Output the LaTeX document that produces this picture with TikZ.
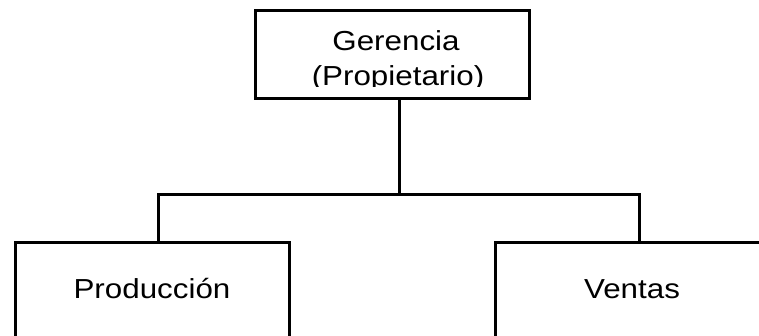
\documentclass[tikz,border=0pt]{standalone}
\usepackage{fontspec}
\setmainfont{Liberation Sans}[FakeStretch=1.14]
\usepackage{tikz}

\begin{document}
\begin{tikzpicture}
  [x=1pt,y=-1pt,line width=3pt,
   every node/.style={font=\fontsize{27.5}{32}\selectfont,inner sep=0pt},
   box/.style={draw,minimum width=274pt,text height=19.3pt,text depth=7.3pt}]
  \useasboundingbox (0,0) rectangle (759,335);

  \node[box,minimum height=88pt] (gerencia) at (392,54) {};
  \begin{scope}
    \clip (255,10) rectangle (529,86);
    \node[anchor=base] (gertitle) at (396,50) {Gerencia};
    \node[anchor=base] (gersub) at (398,85) {(Propietario)};
  \end{scope}

  \node[box,minimum height=100pt] (produccion) at (152,292) {Producción};
  \node[box,minimum height=100pt] (ventas) at (632,292) {Ventas};

  \coordinate (bar) at (399,194);
  \draw (gerencia.south -| bar) -- (bar);
  \draw ([xshift=6pt]produccion.north) |- (bar) -| ([xshift=7pt]ventas.north);
\end{tikzpicture}
\end{document}
